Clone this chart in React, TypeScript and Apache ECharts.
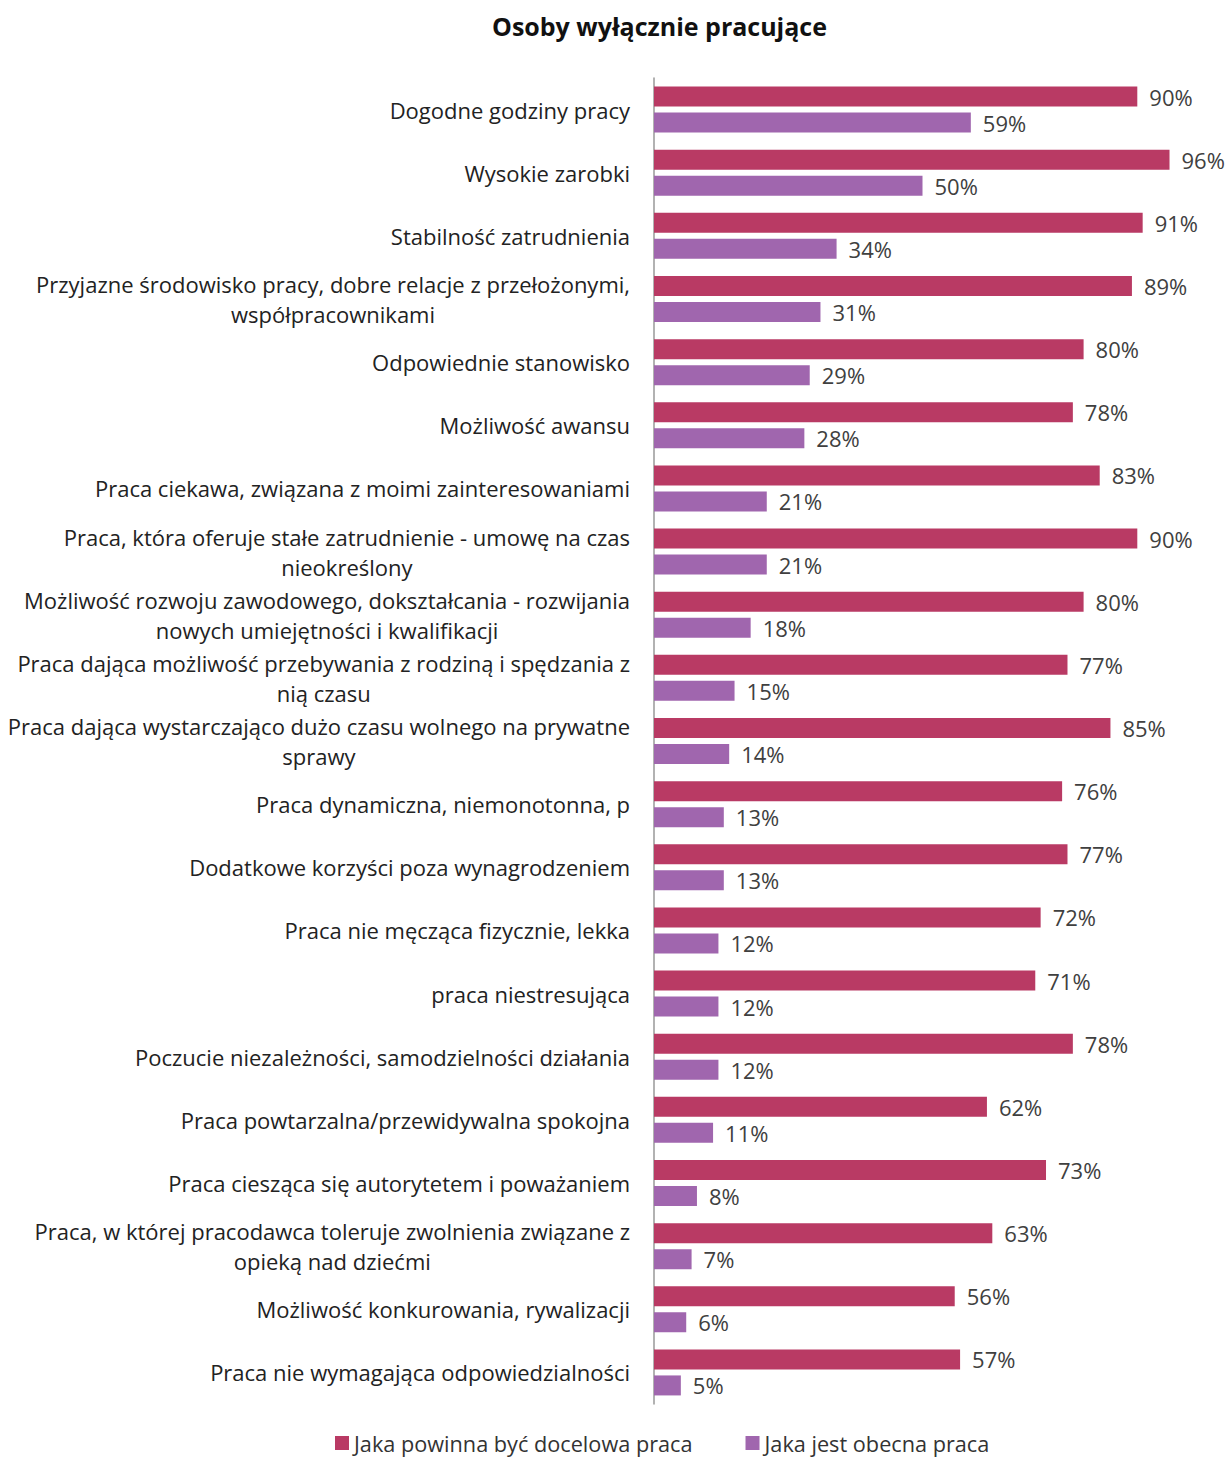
import React, { useEffect, useRef } from "react";
import * as echarts from "echarts";

const categories: string[] = [
  "Dogodne godziny pracy",
  "Wysokie zarobki",
  "Stabilność zatrudnienia",
  "Przyjazne środowisko pracy, dobre relacje z przełożonymi,\nwspółpracownikami",
  "Odpowiednie stanowisko",
  "Możliwość awansu",
  "Praca ciekawa, związana z moimi zainteresowaniami",
  "Praca, która oferuje stałe zatrudnienie - umowę na czas\nnieokreślony",
  "Możliwość rozwoju zawodowego, dokształcania - rozwijania\nnowych umiejętności i kwalifikacji",
  "Praca dająca możliwość przebywania z rodziną i spędzania z\nnią czasu",
  "Praca dająca wystarczająco dużo czasu wolnego na prywatne\nsprawy",
  "Praca dynamiczna, niemonotonna, p",
  "Dodatkowe korzyści poza wynagrodzeniem",
  "Praca nie męcząca fizycznie, lekka",
  "praca niestresująca",
  "Poczucie niezależności, samodzielności działania",
  "Praca powtarzalna/przewidywalna spokojna",
  "Praca ciesząca się autorytetem i poważaniem",
  "Praca, w której pracodawca toleruje zwolnienia związane z\nopieką nad dziećmi",
  "Możliwość konkurowania, rywalizacji",
  "Praca nie wymagająca odpowiedzialności",
];

const targetJob: number[] = [90, 96, 91, 89, 80, 78, 83, 90, 80, 77, 85, 76, 77, 72, 71, 78, 62, 73, 63, 56, 57];
const currentJob: number[] = [59, 50, 34, 31, 29, 28, 21, 21, 18, 15, 14, 13, 13, 12, 12, 12, 11, 8, 7, 6, 5];

const seriesNames: string[] = ["Jaka powinna być docelowa praca", "Jaka jest obecna praca"];
const titleText = "Osoby wyłącznie pracujące";

const FONT = "Open Sans";

export default function App() {
  const ref = useRef<HTMLDivElement>(null);
  useEffect(() => {
    document.body.style.margin = "0";
    if (!ref.current) return;
    const chart = echarts.init(ref.current, null, { renderer: "svg" });
    const labelStyle = {
      show: true,
      position: "right" as const,
      distance: 12,
      formatter: "{c}%",
      color: "#404040",
      fontSize: 22,
      fontFamily: FONT,
    };
    chart.setOption({
      animation: false,
      backgroundColor: "#ffffff",
      title: {
        text: titleText,
        left: 487,
        top: 8,
        textStyle: { fontFamily: FONT, fontSize: 25, fontWeight: "bold", color: "#111111" },
      },
      legend: {
        left: 330,
        top: 1427,
        icon: "rect",
        itemWidth: 14,
        itemHeight: 14,
        itemGap: 53,
        textStyle: { fontFamily: FONT, fontSize: 21.7, color: "#333333" },
        data: seriesNames,
      },
      grid: { left: 654, right: 40, top: 78, bottom: 57, containLabel: false },
      xAxis: {
        type: "value",
        min: 0,
        max: 100,
        show: false,
      },
      yAxis: {
        type: "category",
        inverse: true,
        data: categories,
        axisLine: { show: true, lineStyle: { color: "#999999", width: 1.5 } },
        axisTick: { show: false },
        axisLabel: {
          margin: 24,
          color: "#222222",
          fontFamily: FONT,
          fontSize: 22,
          lineHeight: 30,
          formatter: (v: string) =>
            v
              .split("\n")
              .map((l) => `{c|${l}}`)
              .join("\n"),
          rich: {
            c: { align: "center", fontFamily: FONT, fontSize: 22, lineHeight: 30, color: "#222222" },
          },
        },
      },
      series: [
        {
          name: seriesNames[0],
          type: "bar",
          data: targetJob,
          barWidth: 20,
          barGap: "30%",
          itemStyle: { color: "#B93A64" },
          label: labelStyle,
        },
        {
          name: seriesNames[1],
          type: "bar",
          data: currentJob,
          barWidth: 20,
          barGap: "30%",
          itemStyle: { color: "#A066AE" },
          label: labelStyle,
        },
      ],
    });
    return () => chart.dispose();
  }, []);
  return <div ref={ref} style={{ width: 1231, height: 1461 }} />;
}
